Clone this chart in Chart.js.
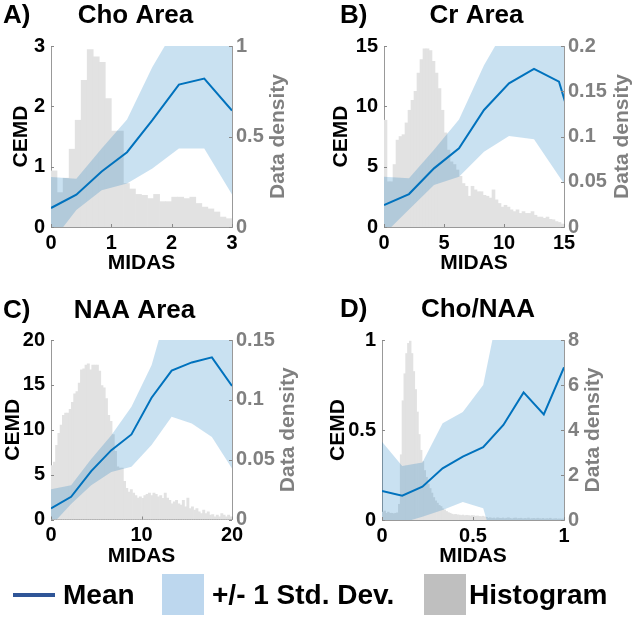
<!DOCTYPE html>
<html>
<head>
<meta charset="utf-8">
<script src="https://cdn.jsdelivr.net/npm/chart.js@4.4.1/dist/chart.umd.min.js"></script>
<style>
body { margin: 0; background: #fff; width: 636px; height: 618px; position: relative; overflow: hidden;
       font-family: "Liberation Sans", Arial, sans-serif; }
canvas { position: absolute; }
.lg { position: absolute; font-weight: bold; font-size: 28px; line-height: 28px; color: #000; white-space: nowrap; }
.sw { position: absolute; }
</style>
</head>
<body>
<canvas id="cA" width="318" height="290" style="left:0;top:0"></canvas>
<canvas id="cB" width="318" height="290" style="left:318px;top:0"></canvas>
<canvas id="cC" width="318" height="290" style="left:0;top:290px"></canvas>
<canvas id="cD" width="318" height="290" style="left:318px;top:290px"></canvas>

<!-- legend -->
<div class="sw" style="left:13px;top:593px;width:42px;height:4px;background:#2f5597"></div>
<div class="lg" style="left:63px;top:581px">Mean</div>
<div class="sw" style="left:162px;top:574px;width:42px;height:41px;background:#bdd7ee"></div>
<div class="lg" style="left:212px;top:581px">+/- 1 Std. Dev.</div>
<div class="sw" style="left:424px;top:574px;width:42px;height:41px;background:#bfbfbf"></div>
<div class="lg" style="left:469px;top:581px">Histogram</div>

<script>
// A) Cho Area
var choX = [0, 0.42, 0.84, 1.26, 1.68, 2.12, 2.54, 3.0];
var choMean = [0.315, 0.536, 0.92, 1.24, 1.77, 2.36, 2.46, 1.93];
var choUpper = [0.83, 0.80, 1.30, 1.78, 2.65, 3.4, 3.5, 3.3];
var choLower = [-0.26, 0.28, 0.61, 0.72, 0.97, 1.30, 1.30, 0.54];
var choBinWidth = 0.1;
var choHist = [0.31, 0.19, 0.27, 0.43, 0.59, 0.81, 0.98, 0.94, 0.91, 0.71,
    0.53, 0.53, 0.24, 0.21, 0.18, 0.175, 0.157, 0.18, 0.14, 0.14,
    0.165, 0.165, 0.157, 0.165, 0.13, 0.11, 0.10, 0.083, 0.055, 0.046];

// B) Cr Area
var crX = [0, 2.083, 4.167, 6.25, 8.333, 10.417, 12.5, 14.583, 16.667];
var crMean = [1.82, 2.73, 4.86, 6.52, 9.70, 11.9, 13.1, 12.04, 5.2];
var crUpper = [4.17, 4.03, 6.4, 8.9, 13.4, 17, 18, 17, 16];
var crLower = [-0.6, 1.46, 3.48, 4.17, 6.24, 7.54, 7.27, 4.2, 1.2];
var crBinWidth = 0.25;
var crHist = [0.118, 0.05, 0.05, 0.069, 0.096, 0.100, 0.102, 0.115, 0.129, 0.14,
    0.15, 0.17, 0.185, 0.197, 0.197, 0.195, 0.183, 0.17, 0.153, 0.129,
    0.104, 0.085, 0.072, 0.069, 0.063, 0.056, 0.048, 0.045, 0.034, 0.045,
    0.041, 0.039, 0.039, 0.035, 0.034, 0.032, 0.041, 0.030, 0.026, 0.022,
    0.024, 0.022, 0.019, 0.017, 0.019, 0.015, 0.017, 0.015, 0.015, 0.017,
    0.013, 0.011, 0.011, 0.0096, 0.011, 0.0085, 0.008, 0.006, 0.005, 0.0033];

// C) NAA Area
var naaX = [0, 2.222, 4.444, 6.667, 8.889, 11.111, 13.333, 15.556, 17.778, 20];
var naaMean = [1.23, 2.53, 5.39, 7.73, 9.48, 13.57, 16.58, 17.5, 18.07, 14.87];
var naaUpper = [3.38, 3.83, 6.73, 9.4, 12.57, 17.2, 25, 25, 25, 24];
var naaLower = [-0.7, 1.74, 3.83, 5.3, 5.87, 8.29, 11.45, 10.7, 9.2, 5.69];
var naaBinWidth = 0.25;
var naaHist = [0.045, 0.048, 0.062, 0.072, 0.079, 0.087, 0.089, 0.089, 0.092, 0.098,
    0.105, 0.107, 0.114, 0.125, 0.126, 0.129, 0.130, 0.125, 0.129, 0.129,
    0.129, 0.124, 0.112, 0.110, 0.101, 0.087, 0.082, 0.071, 0.057, 0.044,
    0.043, 0.043, 0.032, 0.026, 0.023, 0.025, 0.022, 0.020, 0.018, 0.019,
    0.0176, 0.020, 0.021, 0.022, 0.020, 0.022, 0.021, 0.019, 0.020, 0.0176,
    0.022, 0.018, 0.016, 0.013, 0.0148, 0.016, 0.013, 0.012, 0.016, 0.0106,
    0.018, 0.0092, 0.0106, 0.0078, 0.0092, 0.0064, 0.005, 0.0078, 0.005, 0.0064,
    0.0036, 0.0042, 0.0022, 0.0036, 0.0022, 0.005, 0.0036, 0.0022, 0.0036, 0.0022];

// D) Cho/NAA
var ratioX = [0, 0.111, 0.222, 0.333, 0.444, 0.556, 0.667, 0.778, 0.889, 1];
var ratioMean = [0.161, 0.135, 0.185, 0.287, 0.352, 0.404, 0.528, 0.709, 0.587, 0.848];
var ratioUpper = [0.435, 0.30, 0.32, 0.537, 0.6, 0.75, 1.3, 1.4, 1.4, 1.5];
var ratioLower = [-0.1, -0.015, 0.018, 0.056, 0.10, 0.065, -0.31, -0.3, -0.3, -0.2];
var ratioBinWidth = 0.01;
var ratioHist = [0.35, 0.4, 0.3, 0.35, 0.3, 0.3, 0.28, 0.3, 0.32, 0.7,
    2.9, 5.3, 6.5, 7.4, 7.85, 7.95, 7.4, 6.6, 5.8, 4.8,
    3.8, 3.1, 2.6, 2.2, 1.9, 1.6, 1.4, 1.2, 1.0, 0.85,
    0.75, 0.65, 0.6, 0.5, 0.45, 0.38, 0.33, 0.3, 0.26, 0.24,
    0.25, 0.23, 0.22, 0.2, 0.22, 0.19, 0.21, 0.2, 0.18, 0.2,
    0.19, 0.17, 0.18, 0.16, 0.15, 0.17, 0.14, 0.12, 0.08, 0.1,
    0.07, 0.09, 0.06, 0.1, 0.08, 0.07, 0.09, 0.06, 0.08, 0.1,
    0.07, 0.05, 0.08, 0.09, 0.06, 0.07, 0.08, 0.05, 0.07, 0.06,
    0.09, 0.05, 0.06, 0.07, 0.05, 0.08, 0.06, 0.05, 0.07, 0.04,
    0.06, 0.05, 0.08, 0.04, 0.05, 0.06, 0.04, 0.05, 0.04, 0.05];

var FONT = '"Liberation Sans", Arial, sans-serif';
var GREY = '#808080';

function pts(xs, ys) {
    return xs.map(function(x, i) { return {x: x, y: ys[i]}; });
}
function binPts(w, vals) {
    // bars sit on bin centres
    return vals.map(function(v, i) { return {x: (i + 0.5) * w, y: v}; });
}
function fmt(v) { return String(+(+v).toFixed(4)); }

// panel letters/titles, right axis label and the little inward tick marks
var panelDecor = {
    id: 'panelDecor',
    afterDatasetsDraw: function(chart) {
        var ctx = chart.ctx, a = chart.chartArea;
        ctx.save();
        ctx.strokeStyle = '#888';
        ctx.lineWidth = 1;
        ctx.beginPath();
        chart.scales.x.ticks.forEach(function(t) {
            var px = Math.round(chart.scales.x.getPixelForValue(t.value)) + 0.5;
            ctx.moveTo(px, a.bottom); ctx.lineTo(px, a.bottom - 3);
        });
        chart.scales.y.ticks.forEach(function(t) {
            var py = Math.round(chart.scales.y.getPixelForValue(t.value)) + 0.5;
            ctx.moveTo(a.left, py); ctx.lineTo(a.left + 3, py);
        });
        chart.scales.y1.ticks.forEach(function(t) {
            var py = Math.round(chart.scales.y1.getPixelForValue(t.value)) + 0.5;
            ctx.moveTo(a.right, py); ctx.lineTo(a.right - 3, py);
        });
        ctx.stroke();
        ctx.restore();
    },
    afterDraw: function(chart, args, o) {
        var ctx = chart.ctx, a = chart.chartArea;
        ctx.save();
        ctx.fillStyle = '#000';
        ctx.font = 'bold 26px ' + FONT;
        ctx.textBaseline = 'alphabetic';
        ctx.textAlign = 'left';
        ctx.fillText(o.letter, o.letterX, o.textY);
        ctx.textAlign = 'center';
        ctx.fillText(o.title, o.titleX, o.textY);
        // right axis label reads bottom to top, like the left one
        ctx.translate(o.rightLabelX, (a.top + a.bottom) / 2);
        ctx.rotate(-Math.PI / 2);
        ctx.fillStyle = GREY;
        ctx.font = 'bold 21px ' + FONT;
        ctx.textBaseline = 'middle';
        ctx.fillText('Data density', 0, 0);
        ctx.restore();
    }
};

var panels = [
    {id: 'cA', letter: 'A)', title: 'Cho Area', x: choX, mean: choMean, upper: choUpper, lower: choLower,
     hist: choHist, binW: choBinWidth, xMax: 3, xStep: 1, yMax: 3, yStep: 1, y1Max: 1, y1Step: 0.5,
     box: {left: 51, right: 86, top: 46, bottom: 63}, yPad: 9, rightLabelX: 278, xPad: 14.4,
     letterX: 3, titleX: 135.5, textY: 23},
    {id: 'cB', letter: 'B)', title: 'Cr Area', x: crX, mean: crMean, upper: crUpper, lower: crLower,
     hist: crHist, binW: crBinWidth, xMax: 15, xStep: 5, yMax: 15, yStep: 5, y1Max: 0.2, y1Step: 0.05,
     box: {left: 66, right: 72, top: 46, bottom: 63}, yPad: 11, rightLabelX: 304, xPad: 14.4,
     letterX: 22, titleX: 158.5, textY: 23},
    {id: 'cC', letter: 'C)', title: 'NAA Area', x: naaX, mean: naaMean, upper: naaUpper, lower: naaLower,
     hist: naaHist, binW: naaBinWidth, xMax: 20, xStep: 10, yMax: 20, yStep: 5, y1Max: 0.15, y1Step: 0.05,
     box: {left: 51, right: 86, top: 50, bottom: 60.5}, yPad: 1, rightLabelX: 288, xPad: 10.7,
     letterX: 3, titleX: 134.5, textY: 28},
    {id: 'cD', letter: 'D)', title: 'Cho/NAA', x: ratioX, mean: ratioMean, upper: ratioUpper, lower: ratioLower,
     hist: ratioHist, binW: ratioBinWidth, xMax: 1, xStep: 0.5, yMax: 1, yStep: 0.5, y1Max: 8, y1Step: 2,
     box: {left: 64, right: 72, top: 50, bottom: 60}, yPad: 8, rightLabelX: 275.5, xPad: 10.7,
     letterX: 22, titleX: 160, textY: 27}
];

function makeChart(p) {
    var tickFont = {family: FONT, size: 20, weight: 'bold'};
    var titleFont = {family: FONT, size: 21, weight: 'bold'};
    return new Chart(document.getElementById(p.id), {
        type: 'line',
        data: {
            datasets: [
                {label: 'Mean', data: pts(p.x, p.mean), borderColor: '#0072BD', borderWidth: 2,
                 pointRadius: 0, tension: 0, fill: false, yAxisID: 'y'},
                {label: 'upper', data: pts(p.x, p.upper), borderColor: 'rgba(0,0,0,0)', borderWidth: 0,
                 backgroundColor: 'rgba(0,114,189,0.21)', pointRadius: 0, tension: 0, fill: '+1', yAxisID: 'y'},
                {label: 'lower', data: pts(p.x, p.lower), borderColor: 'rgba(0,0,0,0)', borderWidth: 0,
                 pointRadius: 0, tension: 0, fill: false, yAxisID: 'y'},
                {type: 'bar', label: 'Histogram', data: binPts(p.binW, p.hist), backgroundColor: '#e2e2e2',
                 borderWidth: 0, barPercentage: 1, categoryPercentage: 1, yAxisID: 'y1'}
            ]
        },
        options: {
            responsive: false,
            animation: false,
            devicePixelRatio: 1,
            events: [],
            layout: {padding: {top: p.box.top, left: 0, right: 0, bottom: 0}},
            plugins: {
                legend: {display: false},
                tooltip: {enabled: false},
                panelDecor: {letter: p.letter, title: p.title, letterX: p.letterX, titleX: p.titleX,
                             textY: p.textY, rightLabelX: p.rightLabelX}
            },
            scales: {
                x: {
                    type: 'linear', min: 0, max: p.xMax, offset: false,
                    grid: {display: false, drawTicks: false},
                    border: {display: true, color: '#999', width: 1},
                    ticks: {stepSize: p.xStep, font: tickFont, color: '#000', padding: 4, maxRotation: 0,
                            callback: fmt},
                    title: {display: true, text: 'MIDAS', font: titleFont, color: '#000',
                            padding: {top: 0, bottom: p.xPad}},
                    afterFit: function(s) { s.height = p.box.bottom; }
                },
                y: {
                    position: 'left', min: 0, max: p.yMax,
                    grid: {display: false, drawTicks: false},
                    border: {display: true, color: '#999', width: 1},
                    ticks: {stepSize: p.yStep, font: tickFont, color: '#000', padding: 6, callback: fmt},
                    title: {display: true, text: 'CEMD', font: titleFont, color: '#000',
                            padding: {top: p.yPad, bottom: 0}},
                    afterFit: function(s) { s.width = p.box.left; }
                },
                y1: {
                    position: 'right', min: 0, max: p.y1Max,
                    grid: {display: false, drawTicks: false},
                    border: {display: true, color: '#999', width: 1},
                    ticks: {stepSize: p.y1Step, font: tickFont, color: GREY, padding: 4, callback: fmt},
                    title: {display: false},
                    afterFit: function(s) { s.width = p.box.right; }
                }
            }
        },
        plugins: [panelDecor]
    });
}

window.onload = function() {
    panels.forEach(makeChart);
};
</script>
</body>
</html>
